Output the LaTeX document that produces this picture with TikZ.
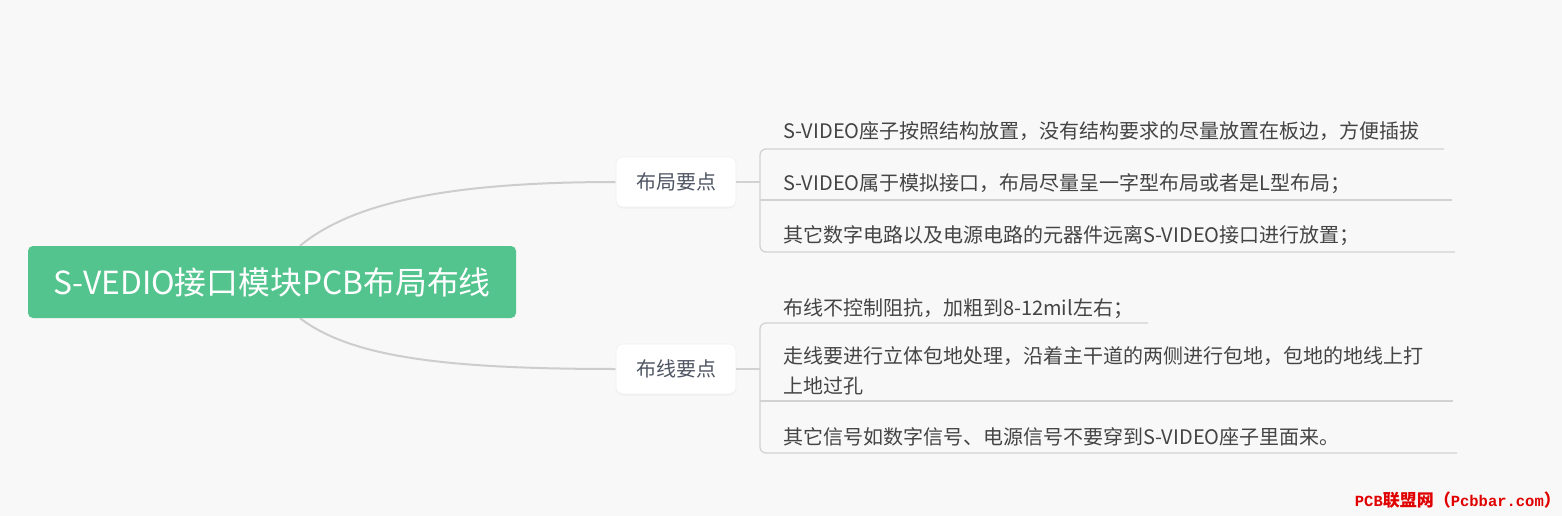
\documentclass[tikz,border=0pt]{standalone}
\usepackage{fontspec}
\setmainfont{Noto Sans CJK SC}
\newfontfamily\wmmono{Liberation Mono}
\usetikzlibrary{shadows,backgrounds}
\definecolor{bg}{HTML}{F8F8F8}
\definecolor{rootgreen}{HTML}{53C48E}
\definecolor{linegray}{HTML}{CDCDCD}
\definecolor{brkgray}{HTML}{D2D2D2}
\definecolor{txt}{HTML}{444444}
\definecolor{brtxt}{HTML}{4F5663}
\definecolor{wmred}{HTML}{E00000}
\begin{document}
\begin{tikzpicture}[x=1pt,y=-1pt,
  conn/.style={draw=linegray, line width=2pt},
  brk/.style={draw=brkgray, line width=1.3pt, rounded corners=6pt},
  rootbox/.style={fill=rootgreen, rounded corners=5pt, minimum width=488pt, minimum height=72pt,
    text=white, font=\fontsize{31.8}{36}\selectfont, inner sep=0pt},
  branchbox/.style={fill=white, draw=black!6, line width=0.6pt, rounded corners=7pt, minimum width=120pt, minimum height=50pt,
    text=brtxt, font=\fontsize{20}{24}\selectfont, inner sep=0pt,
    drop shadow={opacity=0.07, shadow xshift=0pt, shadow yshift=-1.5pt}},
  item/.style={anchor=base west, inner sep=0pt, text=txt, font=\fontsize{20}{30}\selectfont, align=left},
  wmark/.style={anchor=base east, inner sep=0pt, text=wmred, font=\fontsize{17}{20}\selectfont\bfseries},
]
\useasboundingbox (0,0) rectangle (1562,516);

% nodes
\node[rootbox] (root) at (272,282) {\raisebox{-2pt}{S-VEDIO接口模块PCB布局布线}};
\node[branchbox] (b1) at (676,182) {布局要点};
\node[branchbox] (b2) at (676,369) {布线要点};

\node[item] (i11) at (783,139) {S-VIDEO座子按照结构放置，没有结构要求的尽量放置在板边，方便插拔};
\node[item] (i12) at (783,190) {S-VIDEO属于模拟接口，布局尽量呈一字型布局或者是L型布局；};
\node[item] (i13) at (783,242) {其它数字电路以及电源电路的元器件远离S-VIDEO接口进行放置；};

\node[item] (i21) at (783,315) {布线不控制阻抗，加粗到8-12mil左右；};
\node[item] (i22) at (783,393) {走线要进行立体包地处理，沿着主干道的两侧进行包地，包地的地线上打\\上地过孔};
\node[item] (i23) at (783,444) {其它信号如数字信号、电源信号不要穿到S-VIDEO座子里面来。};

\node[wmark] (wm) at (1561,506) {{\wmmono\fontsize{15.5}{20}\selectfont PCB}联盟网（{\wmmono\fontsize{15.5}{20}\selectfont Pcbbar.com}）};

% bracket coordinates
\coordinate (k1) at (760,182);
\coordinate (k2) at (760,369);
\coordinate (u11) at (1444,149);
\coordinate (u12) at (1452,200);
\coordinate (u13) at (1455,252);
\coordinate (u21) at (1148,323);
\coordinate (u22) at (1453,401);
\coordinate (u23) at (1457,453);

\begin{scope}[on background layer]
  \fill[bg] (0,0) rectangle (1562,516);
  \draw[conn] ([xshift=28pt]root.north) .. controls +(50,-41) and +(-176,0) .. (b1.west);
  \draw[conn] ([xshift=28pt]root.south) .. controls +(50,38) and +(-176,0) .. (b2.west);
\end{scope}

% brackets
\draw[brk] (b1.east) -- (k1);
\draw[brk] (u11) -- (u11 -| k1) -- (u13 -| k1) -- (u13);
\draw[brk] (u12 -| k1) -- (u12);

\draw[brk] (b2.east) -- (k2);
\draw[brk] (u21) -- (u21 -| k2) -- (u23 -| k2) -- (u23);
\draw[brk] (u22 -| k2) -- (u22);
\end{tikzpicture}
\end{document}
